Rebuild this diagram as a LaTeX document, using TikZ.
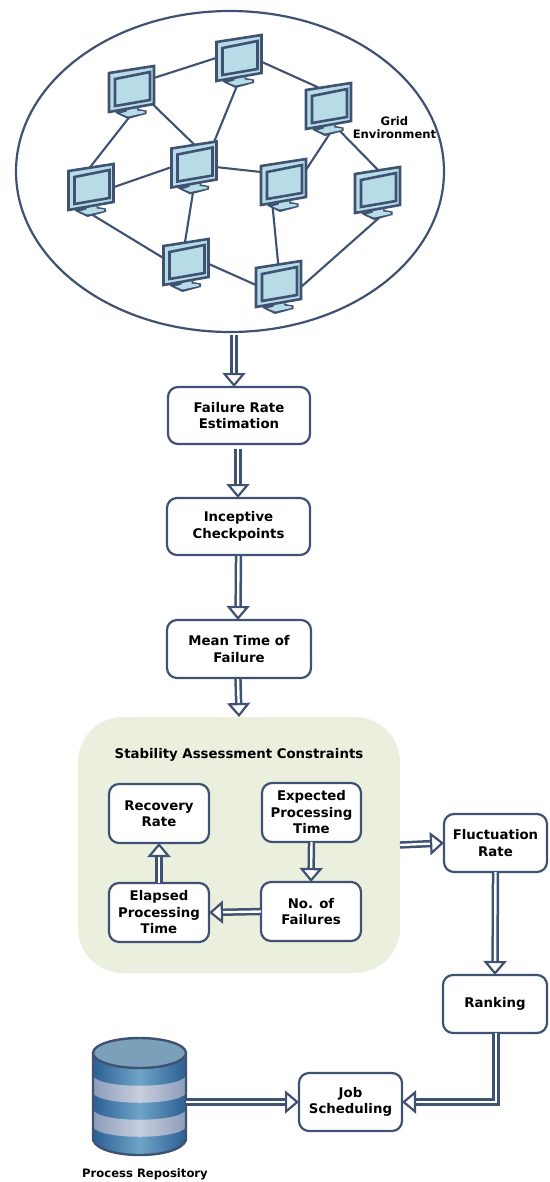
\documentclass[tikz,border=0pt]{standalone}
\usepackage{fontspec}
\setmainfont{DejaVu Sans}
\usetikzlibrary{positioning,arrows.meta,shapes.geometric}
\definecolor{linecol}{HTML}{3F5272}
\definecolor{screencol}{HTML}{B7DCE8}
\definecolor{panelcol}{HTML}{EBEFDD}
\definecolor{dbdark}{HTML}{2C5F94}
\definecolor{dbmid}{HTML}{6EA5C8}
\definecolor{dbband}{HTML}{8C9CBB}
\definecolor{dblight}{HTML}{C8CFDD}
\definecolor{dbtop}{HTML}{7BA0B9}

\begin{document}
\begin{tikzpicture}[x=1pt,y=-1pt,
  box/.style={draw=linecol,line width=2.2pt,rounded corners=10pt,fill=white,align=center,inner sep=0pt,outer sep=0pt,font=\bfseries\fontsize{13.3}{16.5}\selectfont},
  pcnode/.style={rectangle,minimum width=45pt,minimum height=48pt,inner sep=0pt,outer sep=0pt},
  net/.style={draw=linecol,line width=2.1pt,shorten <=-6pt,shorten >=-6pt},
  dbl/.style={draw=linecol,double=white,double distance=2.4pt,line width=2.5pt,-{Triangle[open,fill=white,length=14pt,width=23pt,line width=2.2pt]}},
  monitor/.pic={
    \fill[linecol] (-16,18)--(-6,17)--(-6,15)--(7,13)--(7,17)--(15,18.5)--(15,22)--(-3.5,27)--(-16,21)--cycle;
    \fill[screencol] (-4.5,19.5)--(-4.5,15)--(5.5,14)--(5.5,18.5)--(13,19.5)--(13,21)--(-3.5,24.5)--(-11,21.5)--cycle;
    \draw[linecol,fill=screencol,line width=2.6pt,line join=miter] (-22.5,-19)--(22.5,-26)--(22.5,12)--(-22.5,20)--cycle;
    \draw[linecol,line width=2.6pt,line join=miter] (-16.5,-13)--(18.5,-20)--(18.5,8)--(-16.5,14)--cycle;
  }]
  \useasboundingbox (0,0) rectangle (549,1182);

  \node[ellipse,draw=linecol,line width=2.2pt,minimum width=428pt,minimum height=321pt,inner sep=0pt,outer sep=0pt] (grid) at (230,171.5) {};

  \node[pcnode] (pcA) at (131.5,92) {};
  \node[pcnode] (pcB) at (239,61) {};
  \node[pcnode] (pcC) at (328.5,109) {};
  \node[pcnode] (pcD) at (91,190) {};
  \node[pcnode] (pcE) at (194,167.5) {};
  \node[pcnode] (pcF) at (283.5,185) {};
  \node[pcnode] (pcG) at (377.5,193) {};
  \node[pcnode] (pcH) at (186,265) {};
  \node[pcnode] (pcI) at (278.5,287) {};

  \draw[net] (pcA.32) -- (pcB.172);
  \draw[net] (pcB.-2) -- (pcC.123);
  \draw[net] (pcA.-31) -- (pcE.92);
  \draw[net] (pcA.-93) -- (pcD.90);
  \draw[net] (pcB.-94) -- (pcE.51);
  \draw[net] (pcD.7) -- (pcE.179);
  \draw[net] (pcE.1) -- (pcF.150);
  \draw[net] (pcE.-92) -- (pcH.92);
  \draw[net] (pcD.-90) -- (pcH.163);
  \draw[net] (pcH.3) -- (pcI.175);
  \draw[net] (pcF.-114) -- (pcI.91);
  \draw[net] (pcF.34) -- (pcC.-86);
  \draw[net] (pcC.-61) -- (pcG.91);
  \draw[net] (pcG.-84) -- (pcI.0);

  \foreach \pcname in {pcA,pcB,pcC,pcD,pcE,pcF,pcG,pcH,pcI}
    \pic at (\pcname) {monitor};

  \node[align=center,font=\bfseries\fontsize{11.6}{13.5}\selectfont] (gridlabel) at (394.5,127.5) {Grid\\Environment};

  \node[box,minimum width=142pt,minimum height=57pt] (fail) at (239,415.5) {Failure Rate\\Estimation};
  \node[box,minimum width=143pt,minimum height=57pt] (incept) at (238.5,526.5) {Inceptive\\Checkpoints};
  \node[box,minimum width=144pt,minimum height=58pt] (mean) at (239,649) {Mean Time of\\Failure};

  \node[fill=panelcol,rounded corners=45pt,minimum width=322pt,minimum height=256pt,inner sep=0pt,outer sep=0pt] (panel) at (239,845) {};
  \node[font=\bfseries\fontsize{13.3}{14}\selectfont] (paneltitle) at (239,755) {Stability Assessment Constraints};

  \node[box,minimum width=100pt,minimum height=59pt] (recov) at (159,813.5) {Recovery\\Rate};
  \node[box,minimum width=99pt,minimum height=59pt] (expect) at (311.5,812.5) {Expected\\Processing\\Time};
  \node[box,minimum width=100pt,minimum height=59pt] (elapsed) at (159,912.5) {Elapsed\\Processing\\Time};
  \node[box,minimum width=100pt,minimum height=59pt] (nofail) at (311,911.5) {No. of\\Failures};
  \node[box,minimum width=103pt,minimum height=58pt] (fluct) at (495.5,843) {Fluctuation\\Rate};
  \node[box,minimum width=104pt,minimum height=58pt] (rank) at (495,1004) {Ranking};
  \node[box,minimum width=103pt,minimum height=58pt] (job) at (350.5,1102) {Job\\Scheduling};

  % repository
  \node[minimum width=93pt,minimum height=117pt,inner sep=0pt,outer sep=0pt] (repo) at (139.5,1096.5) {};
  \shade[left color=dbdark,right color=dbdark,middle color=dbmid]
    (93,1052) -- (186,1052) -- (186,1140) .. controls (179,1160) and (100,1160) .. (93,1140) -- cycle;
  \shade[left color=dbband,right color=dbband,middle color=dblight]
    (93,1076) .. controls (100,1089) and (179,1089) .. (186,1076) -- (186,1093) .. controls (179,1106) and (100,1106) .. (93,1093) -- cycle;
  \shade[left color=dbband,right color=dbband,middle color=dblight]
    (93,1110) .. controls (100,1123) and (179,1123) .. (186,1110) -- (186,1127) .. controls (179,1140) and (100,1140) .. (93,1127) -- cycle;
  \draw[draw=linecol,line width=2.4pt] (93,1053) -- (93,1140) .. controls (100,1160) and (179,1160) .. (186,1140) -- (186,1053);
  \draw[draw=linecol,fill=dbtop,line width=2.4pt] (139.5,1053) ellipse (46.5 and 15);
  \node[font=\bfseries\fontsize{11.6}{12}\selectfont] (repolabel) at (145,1174) {Process Repository};

  \draw[dbl] ([xshift=4pt,yshift=-3pt]grid.south) -- ([xshift=-5pt]fail.north);
  \draw[dbl] ([xshift=-1pt,yshift=-5pt]fail.south) -- ([xshift=-.5pt]incept.north);
  \draw[dbl] ([yshift=-1pt]incept.south) -- ([xshift=-1pt]mean.north);
  \draw[dbl] ([xshift=-1pt,yshift=-1pt]mean.south) -- (panel.north);
  \draw[dbl] (elapsed.north) -- (recov.south);
  \draw[dbl] (expect.south) -- (nofail.north);
  \draw[dbl] (nofail.west) -- (elapsed.east);
  \draw[dbl] (panel.east) -- (fluct.west);
  \draw[dbl] (fluct.south) -- (rank.north);
  \draw[dbl] ([xshift=1pt]rank.south) |- (job.east);
  \draw[dbl] ([yshift=-5.5pt]repo.east) -- (job.west);
\end{tikzpicture}
\end{document}
